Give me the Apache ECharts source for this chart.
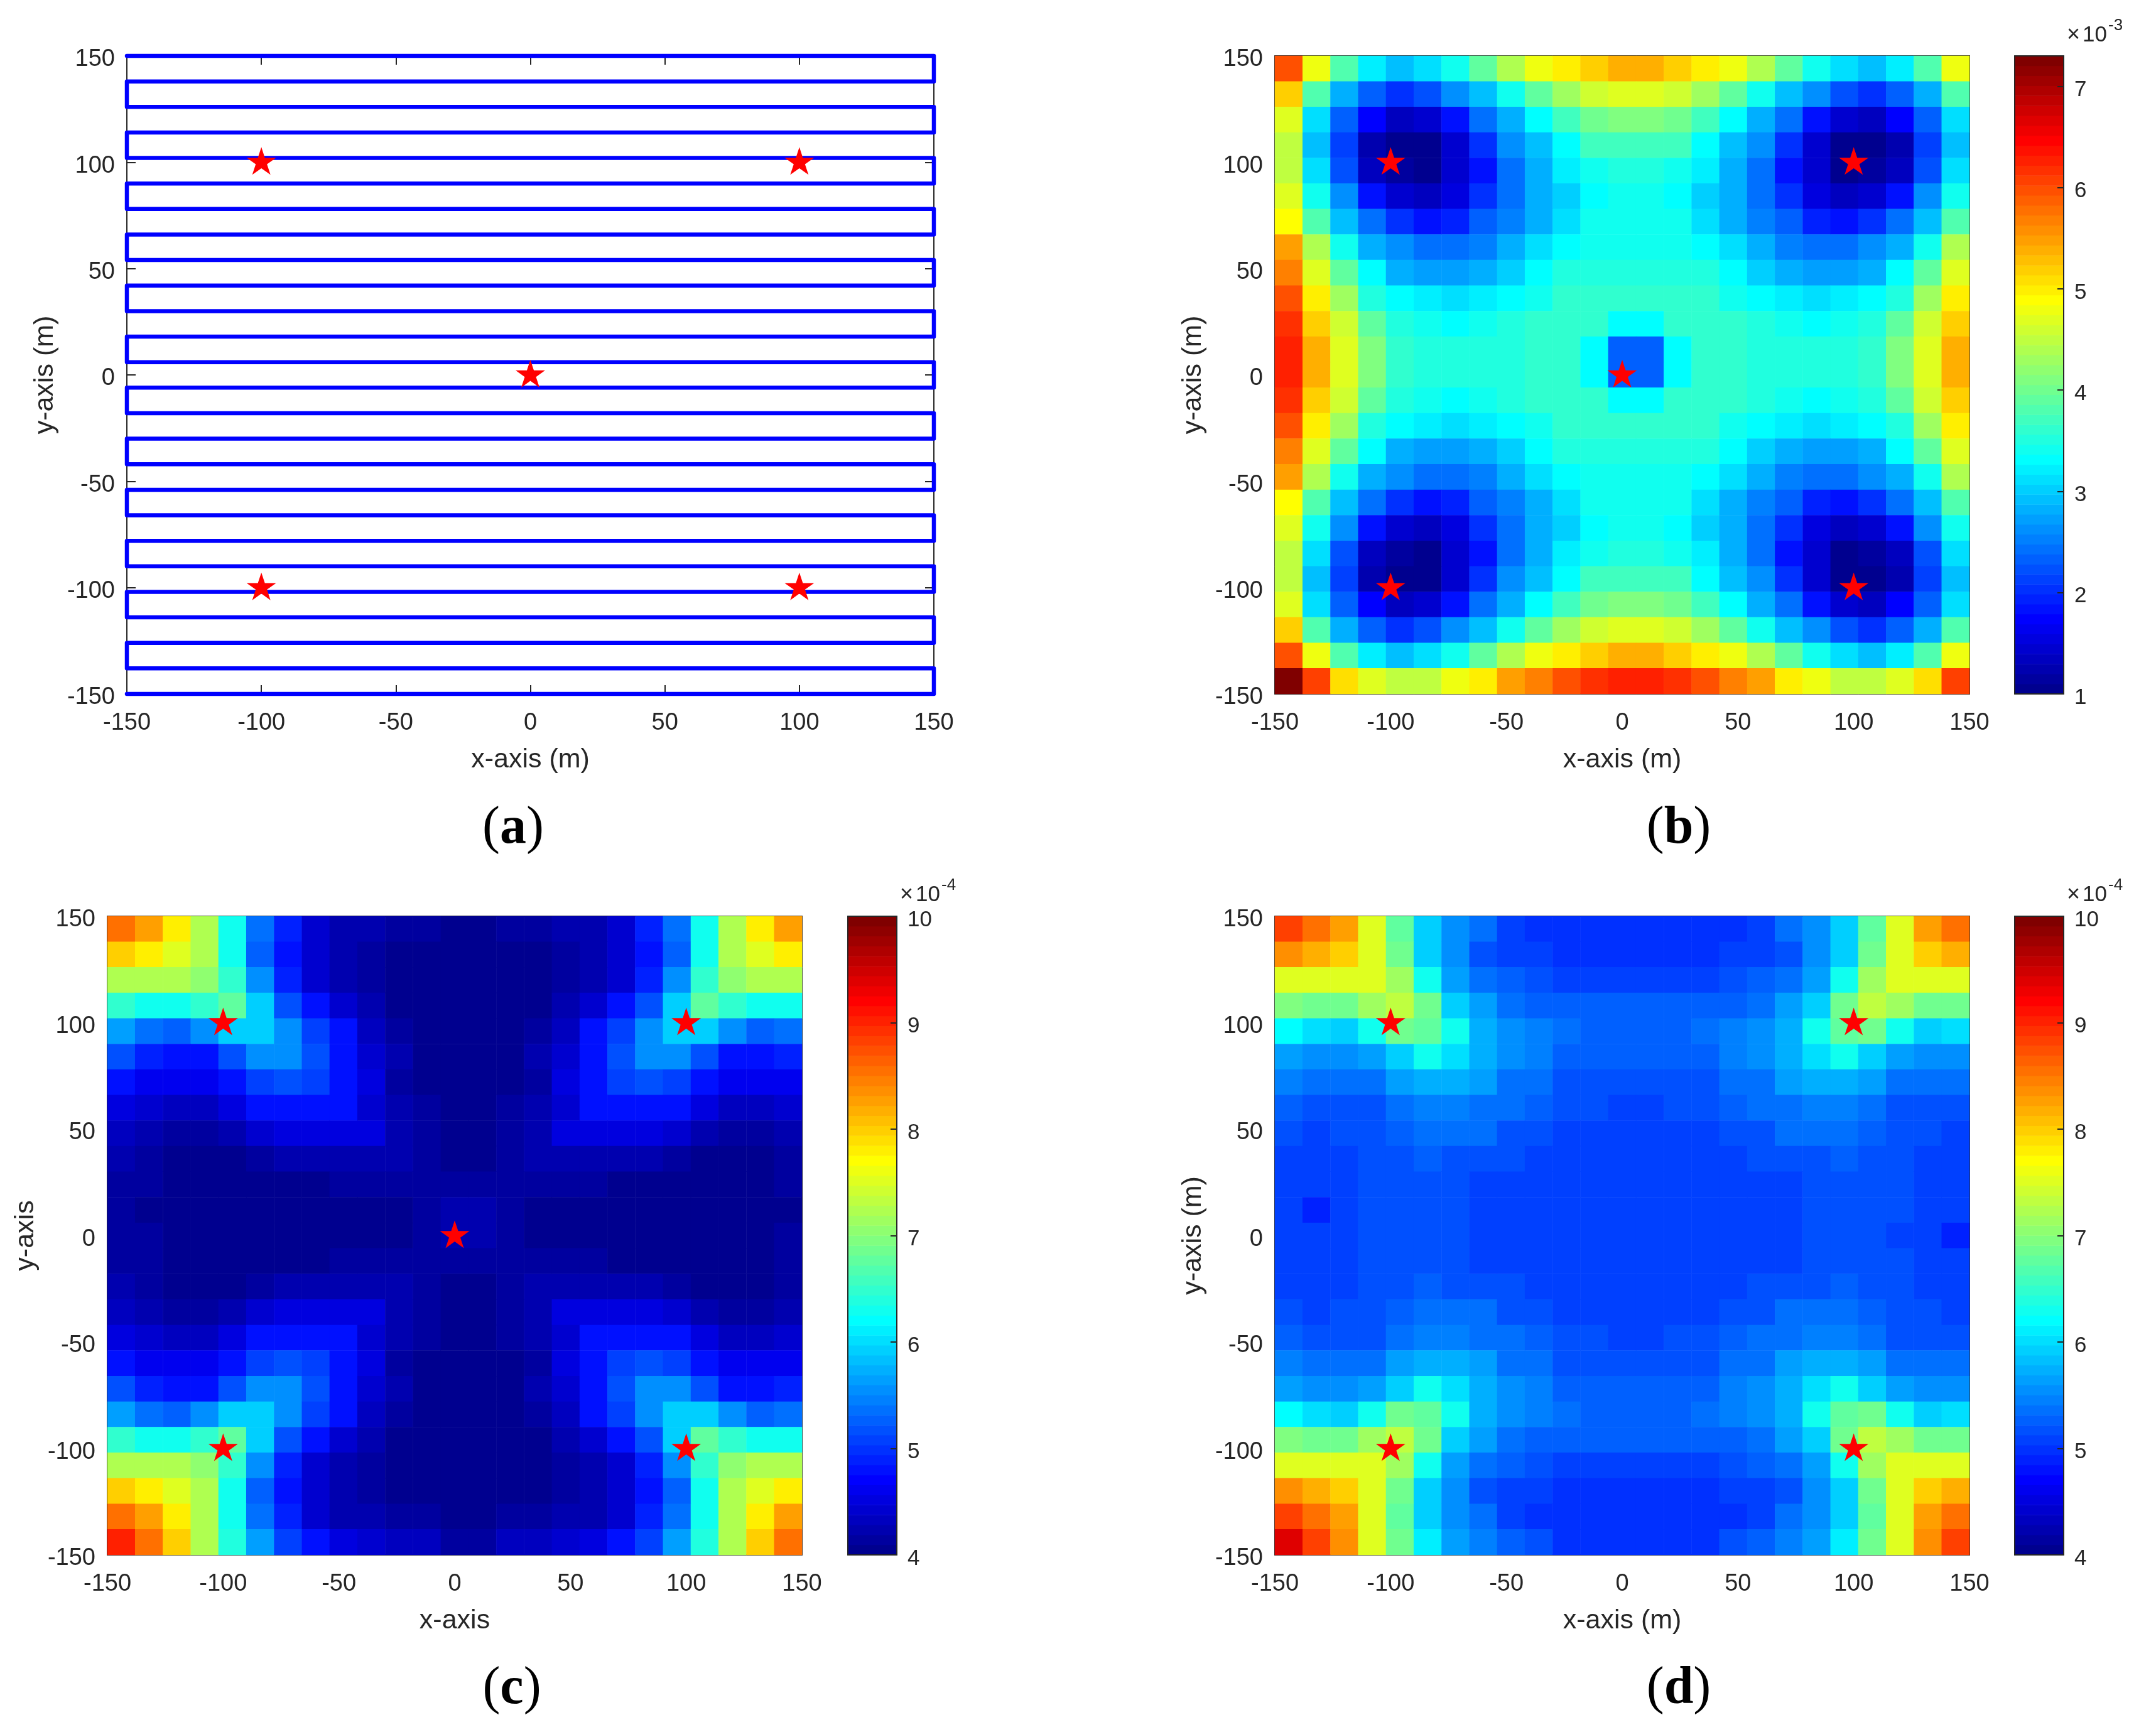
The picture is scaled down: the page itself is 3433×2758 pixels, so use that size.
<!DOCTYPE html>
<html>
<head>
<meta charset="utf-8">
<style>html,body{margin:0;padding:0;background:#fff}#c{width:3433px;height:2758px}</style>
<script src="https://cdn.jsdelivr.net/npm/echarts@6/dist/echarts.min.js"></script>
</head>
<body>
<div id="c"></div>
<script>
// ---------- data ----------
const starX = [-100, 100, 0, -100, 100];
const starY = [100, 100, 0, -100, -100];
const starXd = [-100, 100, -100, 100];
const starYd = [100, 100, -100, -100];
const pathX = [-150,150,150,-150,-150,150,150,-150,-150,150,150,-150,-150,150,150,-150,-150,150,150,-150,-150,150,150,-150,-150,150,150,-150,-150,150,150,-150,-150,150,150,-150,-150,150,150,-150,-150,150,150,-150,-150,150,150,-150,-150,150,150,-150];
const pathY = [150,150,138,138,126,126,114,114,102,102,90,90,78,78,66,66,54,54,42,42,30,30,18,18,6,6,-6,-6,-18,-18,-30,-30,-42,-42,-54,-54,-66,-66,-78,-78,-90,-90,-102,-102,-114,-114,-126,-126,-138,-138,-150,-150];
const cellNames = ['1','2','3','4','5','6','7','8','9','10','11','12','13','14','15','16','17','18','19','20','21','22','23','24','25'];
// power maps, rows listed from y=150 down to y=-150 (units of the colour bar)
const mapB = [
[6.0,4.75,3.8,3.25,2.95,3.15,3.43,3.9,4.35,4.75,5.0,5.2,5.35,5.35,5.2,5.0,4.75,4.35,3.9,3.43,3.15,2.95,3.25,3.8,4.75],
[5.15,3.8,2.85,2.33,2.0,2.2,2.6,2.95,3.38,3.9,4.25,4.55,4.65,4.65,4.55,4.25,3.9,3.38,2.95,2.6,2.2,2.0,2.33,2.85,3.8],
[4.65,3.15,2.3,1.7,1.35,1.45,1.8,2.4,2.85,3.32,3.7,4.0,4.1,4.1,4.0,3.7,3.32,2.85,2.4,1.8,1.45,1.35,1.7,2.3,3.15],
[4.45,2.95,2.1,1.25,1.05,1.0,1.45,2.0,2.58,2.95,3.32,3.68,3.75,3.75,3.68,3.32,2.95,2.58,2.0,1.45,1.0,1.05,1.25,2.1,2.95],
[4.45,3.15,2.2,1.35,1.1,1.05,1.45,1.8,2.4,2.85,3.25,3.43,3.55,3.55,3.43,3.25,2.85,2.4,1.8,1.45,1.05,1.1,1.35,2.2,3.15],
[4.7,3.43,2.58,1.8,1.45,1.35,1.55,2.0,2.4,2.8,3.05,3.32,3.43,3.43,3.32,3.05,2.8,2.4,2.0,1.55,1.35,1.45,1.8,2.58,3.43],
[4.85,3.8,2.95,2.4,2.0,1.8,1.9,2.33,2.5,2.85,3.15,3.38,3.43,3.43,3.38,3.15,2.85,2.5,2.33,1.9,1.8,2.0,2.4,2.95,3.8],
[5.45,4.35,3.38,2.85,2.58,2.4,2.4,2.5,2.8,3.15,3.32,3.43,3.43,3.43,3.43,3.32,3.15,2.8,2.5,2.4,2.4,2.58,2.85,3.38,4.35],
[5.7,4.7,3.9,3.32,2.85,2.75,2.75,2.85,3.05,3.32,3.48,3.55,3.55,3.55,3.55,3.48,3.32,3.05,2.85,2.75,2.75,2.85,3.32,3.9,4.7],
[6.0,5.0,4.25,3.55,3.32,3.25,3.15,3.25,3.32,3.43,3.6,3.6,3.6,3.6,3.6,3.6,3.43,3.32,3.25,3.15,3.25,3.32,3.55,4.25,5.0],
[6.2,5.2,4.55,3.9,3.55,3.38,3.32,3.38,3.48,3.6,3.6,3.6,3.32,3.32,3.6,3.6,3.6,3.48,3.38,3.32,3.38,3.55,3.9,4.55,5.2],
[6.3,5.35,4.65,4.1,3.6,3.48,3.48,3.48,3.55,3.6,3.6,3.35,2.37,2.37,3.35,3.6,3.6,3.55,3.48,3.48,3.48,3.6,4.1,4.65,5.35],
[6.3,5.35,4.65,4.1,3.6,3.48,3.48,3.48,3.55,3.6,3.6,3.35,2.37,2.37,3.35,3.6,3.6,3.55,3.48,3.48,3.48,3.6,4.1,4.65,5.35],
[6.2,5.2,4.55,3.9,3.55,3.38,3.32,3.38,3.48,3.6,3.6,3.6,3.32,3.32,3.6,3.6,3.6,3.48,3.38,3.32,3.38,3.55,3.9,4.55,5.2],
[6.0,5.0,4.25,3.55,3.32,3.25,3.15,3.25,3.32,3.43,3.6,3.6,3.6,3.6,3.6,3.6,3.43,3.32,3.25,3.15,3.25,3.32,3.55,4.25,5.0],
[5.7,4.7,3.9,3.32,2.85,2.75,2.75,2.85,3.05,3.32,3.48,3.55,3.55,3.55,3.55,3.48,3.32,3.05,2.85,2.75,2.75,2.85,3.32,3.9,4.7],
[5.45,4.35,3.38,2.85,2.58,2.4,2.4,2.5,2.8,3.15,3.32,3.43,3.43,3.43,3.43,3.32,3.15,2.8,2.5,2.4,2.4,2.58,2.85,3.38,4.35],
[4.85,3.8,2.95,2.4,2.0,1.8,1.9,2.33,2.5,2.85,3.15,3.38,3.43,3.43,3.38,3.15,2.85,2.5,2.33,1.9,1.8,2.0,2.4,2.95,3.8],
[4.7,3.43,2.58,1.8,1.45,1.35,1.55,2.0,2.4,2.8,3.05,3.32,3.43,3.43,3.32,3.05,2.8,2.4,2.0,1.55,1.35,1.45,1.8,2.58,3.43],
[4.45,3.15,2.2,1.35,1.1,1.05,1.45,1.8,2.4,2.85,3.25,3.43,3.55,3.55,3.43,3.25,2.85,2.4,1.8,1.45,1.05,1.1,1.35,2.2,3.15],
[4.45,2.95,2.1,1.25,1.05,1.0,1.45,2.0,2.58,2.95,3.32,3.68,3.75,3.75,3.68,3.32,2.95,2.58,2.0,1.45,1.0,1.05,1.25,2.1,2.95],
[4.65,3.15,2.3,1.7,1.35,1.45,1.8,2.4,2.85,3.32,3.7,4.0,4.1,4.1,4.0,3.7,3.32,2.85,2.4,1.8,1.45,1.35,1.7,2.3,3.15],
[5.15,3.8,2.85,2.33,2.0,2.2,2.6,2.95,3.38,3.9,4.25,4.55,4.65,4.65,4.55,4.25,3.9,3.38,2.95,2.6,2.2,2.0,2.33,2.85,3.8],
[6.0,4.75,3.8,3.25,2.95,3.15,3.43,3.9,4.35,4.75,5.0,5.2,5.35,5.35,5.2,5.0,4.75,4.35,3.9,3.43,3.15,2.95,3.25,3.8,4.75],
[7.3,6.1,5.1,4.65,4.45,4.45,4.75,5.0,5.45,5.7,5.95,6.15,6.3,6.3,6.15,5.95,5.7,5.45,5.0,4.75,4.45,4.45,4.65,5.1,6.1]
];
const mapC = [
[8.5,8.25,7.75,7.2,6.25,5.4,4.85,4.45,4.25,4.2,4.15,4.15,4.05,4.05,4.15,4.15,4.2,4.25,4.45,4.85,5.4,6.25,7.2,7.75,8.25],
[7.95,7.75,7.55,7.2,6.25,5.3,4.75,4.4,4.2,4.15,4.05,4.05,4.0,4.0,4.05,4.05,4.15,4.2,4.4,4.75,5.3,6.25,7.2,7.55,7.75],
[7.25,7.2,7.2,7.05,6.45,5.5,4.85,4.45,4.25,4.15,4.05,4.0,4.0,4.0,4.0,4.05,4.15,4.25,4.45,4.85,5.5,6.45,7.05,7.2,7.2],
[6.45,6.25,6.25,6.45,6.75,5.95,5.2,4.75,4.45,4.25,4.05,4.0,4.0,4.0,4.0,4.05,4.25,4.45,4.75,5.2,5.95,6.75,6.45,6.25,6.25],
[5.6,5.4,5.3,5.55,5.95,5.95,5.55,5.1,4.75,4.35,4.15,4.05,4.0,4.0,4.05,4.15,4.35,4.75,5.1,5.55,5.95,5.95,5.55,5.3,5.4],
[5.2,4.85,4.75,4.8,5.2,5.55,5.5,5.2,4.75,4.45,4.2,4.0,4.0,4.0,4.0,4.2,4.45,4.75,5.2,5.5,5.55,5.2,4.8,4.75,4.85],
[4.75,4.65,4.6,4.6,4.75,5.1,5.2,5.1,4.75,4.5,4.15,4.0,4.0,4.0,4.0,4.15,4.5,4.75,5.1,5.2,5.1,4.75,4.6,4.6,4.65],
[4.5,4.45,4.35,4.35,4.5,4.75,4.8,4.8,4.75,4.45,4.2,4.1,4.0,4.0,4.1,4.2,4.45,4.75,4.8,4.8,4.75,4.5,4.35,4.35,4.45],
[4.35,4.25,4.15,4.15,4.25,4.45,4.55,4.55,4.55,4.55,4.2,4.1,4.0,4.0,4.1,4.2,4.55,4.55,4.55,4.55,4.45,4.25,4.15,4.15,4.25],
[4.2,4.15,4.0,4.0,4.0,4.15,4.25,4.25,4.25,4.25,4.25,4.1,4.0,4.0,4.1,4.25,4.25,4.25,4.25,4.25,4.15,4.0,4.0,4.0,4.15],
[4.15,4.1,4.0,4.0,4.0,4.0,4.0,4.0,4.12,4.12,4.12,4.12,4.12,4.12,4.12,4.12,4.12,4.12,4.0,4.0,4.0,4.0,4.0,4.0,4.1],
[4.1,4.0,4.0,4.0,4.0,4.0,4.0,4.0,4.0,4.0,4.0,4.1,4.25,4.25,4.1,4.0,4.0,4.0,4.0,4.0,4.0,4.0,4.0,4.0,4.0],
[4.1,4.1,4.0,4.0,4.0,4.0,4.0,4.0,4.0,4.0,4.0,4.1,4.25,4.25,4.1,4.0,4.0,4.0,4.0,4.0,4.0,4.0,4.0,4.0,4.1],
[4.15,4.1,4.0,4.0,4.0,4.0,4.0,4.0,4.12,4.12,4.12,4.12,4.12,4.12,4.12,4.12,4.12,4.12,4.0,4.0,4.0,4.0,4.0,4.0,4.1],
[4.2,4.15,4.0,4.0,4.0,4.15,4.25,4.25,4.25,4.25,4.25,4.1,4.0,4.0,4.1,4.25,4.25,4.25,4.25,4.25,4.15,4.0,4.0,4.0,4.15],
[4.35,4.25,4.15,4.15,4.25,4.45,4.55,4.55,4.55,4.55,4.2,4.1,4.0,4.0,4.1,4.2,4.55,4.55,4.55,4.55,4.45,4.25,4.15,4.15,4.25],
[4.5,4.45,4.35,4.35,4.5,4.75,4.8,4.8,4.75,4.45,4.2,4.1,4.0,4.0,4.1,4.2,4.45,4.75,4.8,4.8,4.75,4.5,4.35,4.35,4.45],
[4.75,4.65,4.6,4.6,4.75,5.1,5.2,5.1,4.75,4.5,4.15,4.0,4.0,4.0,4.0,4.15,4.5,4.75,5.1,5.2,5.1,4.75,4.6,4.6,4.65],
[5.2,4.85,4.75,4.8,5.2,5.55,5.5,5.2,4.75,4.45,4.2,4.0,4.0,4.0,4.0,4.2,4.45,4.75,5.2,5.5,5.55,5.2,4.8,4.75,4.85],
[5.6,5.4,5.3,5.55,5.95,5.95,5.55,5.1,4.75,4.35,4.15,4.05,4.0,4.0,4.05,4.15,4.35,4.75,5.1,5.55,5.95,5.95,5.55,5.3,5.4],
[6.45,6.25,6.25,6.45,6.75,5.95,5.2,4.75,4.45,4.25,4.05,4.0,4.0,4.0,4.0,4.05,4.25,4.45,4.75,5.2,5.95,6.75,6.45,6.25,6.25],
[7.25,7.2,7.2,7.05,6.45,5.5,4.85,4.45,4.25,4.15,4.05,4.0,4.0,4.0,4.0,4.05,4.15,4.25,4.45,4.85,5.5,6.45,7.05,7.2,7.2],
[7.95,7.75,7.55,7.2,6.25,5.3,4.75,4.4,4.2,4.15,4.05,4.05,4.0,4.0,4.05,4.05,4.15,4.2,4.4,4.75,5.3,6.25,7.2,7.55,7.75],
[8.5,8.25,7.75,7.2,6.25,5.4,4.85,4.45,4.25,4.2,4.15,4.15,4.05,4.05,4.15,4.15,4.2,4.25,4.45,4.85,5.4,6.25,7.2,7.75,8.25],
[9.05,8.5,7.95,7.2,6.35,5.6,5.1,4.75,4.55,4.45,4.35,4.35,4.15,4.15,4.35,4.35,4.45,4.55,4.75,5.1,5.6,6.35,7.2,7.95,8.5]
];
const mapD = [
[8.85,8.55,8.25,7.55,6.75,5.95,5.5,5.35,5.1,5.0,5.0,5.0,5.0,5.0,5.0,5.0,5.0,5.1,5.35,5.5,5.95,6.75,7.55,8.25,8.55],
[8.35,8.15,7.95,7.55,6.85,5.95,5.5,5.2,5.1,5.1,5.0,5.0,5.0,5.0,5.0,5.0,5.1,5.1,5.2,5.5,5.95,6.85,7.55,7.95,8.15],
[7.55,7.55,7.55,7.55,7.1,6.25,5.6,5.35,5.3,5.2,5.1,5.1,5.1,5.1,5.1,5.1,5.2,5.3,5.35,5.6,6.25,7.1,7.55,7.55,7.55],
[6.95,6.85,6.85,7.1,7.35,6.85,5.95,5.6,5.4,5.3,5.25,5.25,5.25,5.25,5.25,5.25,5.3,5.4,5.6,5.95,6.85,7.35,7.1,6.85,6.85],
[6.2,6.05,5.95,6.25,6.85,6.8,6.25,5.75,5.5,5.45,5.35,5.25,5.25,5.25,5.25,5.35,5.45,5.5,5.75,6.25,6.8,6.85,6.25,5.95,6.05],
[5.65,5.5,5.5,5.65,5.95,6.25,6.05,5.75,5.5,5.45,5.25,5.25,5.25,5.25,5.25,5.25,5.45,5.5,5.75,6.05,6.25,5.95,5.65,5.5,5.5],
[5.45,5.35,5.35,5.35,5.6,5.7,5.7,5.6,5.4,5.35,5.2,5.15,5.15,5.15,5.15,5.2,5.35,5.4,5.6,5.7,5.7,5.6,5.35,5.35,5.35],
[5.25,5.15,5.15,5.15,5.35,5.45,5.45,5.4,5.35,5.25,5.15,5.15,5.05,5.05,5.15,5.15,5.25,5.35,5.4,5.45,5.45,5.35,5.15,5.15,5.15],
[5.15,5.05,5.15,5.15,5.25,5.35,5.35,5.35,5.2,5.15,5.05,5.05,5.05,5.05,5.05,5.05,5.15,5.2,5.35,5.35,5.35,5.25,5.15,5.15,5.05],
[5.05,5.05,5.05,5.15,5.15,5.25,5.15,5.15,5.15,5.05,5.05,5.05,5.05,5.05,5.05,5.05,5.05,5.15,5.15,5.15,5.25,5.15,5.15,5.05,5.05],
[5.05,5.05,5.05,5.15,5.15,5.15,5.15,5.1,5.1,5.05,5.05,5.05,5.05,5.05,5.05,5.05,5.05,5.1,5.1,5.15,5.15,5.15,5.15,5.05,5.05],
[5.05,4.9,5.05,5.15,5.15,5.15,5.15,5.1,5.05,5.05,5.05,5.05,5.05,5.05,5.05,5.05,5.05,5.05,5.1,5.15,5.15,5.15,5.15,5.05,5.05],
[5.05,5.05,5.05,5.15,5.15,5.15,5.15,5.1,5.05,5.05,5.05,5.05,5.05,5.05,5.05,5.05,5.05,5.05,5.1,5.15,5.15,5.15,5.05,5.05,4.9],
[5.05,5.05,5.05,5.15,5.15,5.15,5.15,5.1,5.1,5.05,5.05,5.05,5.05,5.05,5.05,5.05,5.05,5.1,5.1,5.15,5.15,5.15,5.15,5.05,5.05],
[5.05,5.05,5.05,5.15,5.15,5.25,5.15,5.15,5.15,5.05,5.05,5.05,5.05,5.05,5.05,5.05,5.05,5.15,5.15,5.15,5.25,5.15,5.15,5.05,5.05],
[5.15,5.05,5.15,5.15,5.25,5.35,5.35,5.35,5.2,5.15,5.05,5.05,5.05,5.05,5.05,5.05,5.15,5.2,5.35,5.35,5.35,5.25,5.15,5.15,5.05],
[5.25,5.15,5.15,5.15,5.35,5.45,5.45,5.4,5.35,5.25,5.15,5.15,5.05,5.05,5.15,5.15,5.25,5.35,5.4,5.45,5.45,5.35,5.15,5.15,5.15],
[5.45,5.35,5.35,5.35,5.6,5.7,5.7,5.6,5.4,5.35,5.2,5.15,5.15,5.15,5.15,5.2,5.35,5.4,5.6,5.7,5.7,5.6,5.35,5.35,5.35],
[5.65,5.5,5.5,5.65,5.95,6.25,6.05,5.75,5.5,5.45,5.25,5.25,5.25,5.25,5.25,5.25,5.45,5.5,5.75,6.05,6.25,5.95,5.65,5.5,5.5],
[6.2,6.05,5.95,6.25,6.85,6.8,6.25,5.75,5.5,5.45,5.35,5.25,5.25,5.25,5.25,5.35,5.45,5.5,5.75,6.25,6.8,6.85,6.25,5.95,6.05],
[6.95,6.85,6.85,7.1,7.35,6.85,5.95,5.6,5.4,5.3,5.25,5.25,5.25,5.25,5.25,5.25,5.3,5.4,5.6,5.95,6.85,7.35,7.1,6.85,6.85],
[7.55,7.55,7.55,7.55,7.1,6.25,5.6,5.35,5.3,5.2,5.1,5.1,5.1,5.1,5.1,5.1,5.2,5.3,5.35,5.6,6.25,7.1,7.55,7.55,7.55],
[8.35,8.15,7.95,7.55,6.85,5.95,5.5,5.2,5.1,5.1,5.0,5.0,5.0,5.0,5.0,5.0,5.1,5.1,5.2,5.5,5.95,6.85,7.55,7.95,8.15],
[8.85,8.55,8.25,7.55,6.75,5.95,5.5,5.35,5.1,5.0,5.0,5.0,5.0,5.0,5.0,5.0,5.0,5.1,5.35,5.5,5.95,6.75,7.55,8.25,8.55],
[9.4,8.85,8.35,7.55,6.85,6.15,5.65,5.45,5.25,5.15,5.0,5.0,5.0,5.0,5.0,5.0,5.15,5.25,5.45,5.65,6.15,6.85,7.55,8.35,8.85]
];

// ---------- styling and assembly ----------
const INK = '#262626';
const SANS = '"Liberation Sans", Arial, sans-serif';
const SERIF = '"Liberation Serif", "Times New Roman", serif';
const STAR = 'path://M0 -24 L5.39 -7.42 L22.83 -7.42 L8.72 2.83 L14.11 19.42 L0 9.17 L-14.11 19.42 L-8.72 2.83 L-22.83 -7.42 L-5.39 -7.42 Z';

function jet(k) { // MATLAB jet(64), k = 0..63
  const t = (k + 1) / 64 * 4;
  const c = v => Math.round(255 * Math.min(1, Math.max(0, v)));
  const r = c(Math.min(t - 1.5, 4.5 - t));
  const g = c(Math.min(t - 0.5, 3.5 - t));
  const b = c(Math.min(t + 0.5, 2.5 - t));
  return 'rgb(' + r + ',' + g + ',' + b + ')';
}
function pieces(min, max) {
  const d = (max - min) / 64, out = [];
  for (let k = 0; k < 64; k++) {
    const p = { gte: min + k * d, color: jet(k) };
    if (k === 63) p.lte = max + 1e-6; else p.lt = min + (k + 1) * d;
    out.push(p);
  }
  return out;
}

const grids = [], xAxes = [], yAxes = [], series = [], graphics = [], visualMaps = [];

function valueAxis(g, pos, min, max, interval, o) {
  o = o || {};
  const ax = {
    type: 'value', gridIndex: g, position: pos, min, max, interval,
    z: o.z || 0, silent: true,
    axisLine: { show: true, onZero: false, lineStyle: { color: INK, width: 2 } },
    axisTick: { show: true, inside: true, length: o.tick || 14, lineStyle: { color: INK, width: 2 } },
    splitLine: { show: false },
    axisLabel: { show: !!o.label, color: INK, fontFamily: SANS, fontSize: o.fontSize || 38, margin: o.margin === undefined ? 28 : o.margin, formatter: o.formatter },
  };
  if (o.lowered) { ax.axisLabel.verticalAlign = 'top'; ax.axisLabel.lineHeight = 12; }
  if (o.name) {
    ax.name = o.name; ax.nameLocation = 'middle'; ax.nameGap = o.nameGap;
    ax.nameTextStyle = { color: INK, fontFamily: SANS, fontSize: 43 };
  }
  return ax;
}

function frame(rect, xName, yName) {
  const g = grids.length;
  grids.push(Object.assign({ show: false }, rect));
  const xi = xAxes.length, yi = yAxes.length;
  xAxes.push(valueAxis(g, 'bottom', -150, 150, 50, { label: true, name: xName, nameGap: 84 }));
  yAxes.push(valueAxis(g, 'left', -150, 150, 50, { label: true, margin: 19, lowered: true, name: yName, nameGap: 108 }));
  xAxes.push(valueAxis(g, 'top', -150, 150, 50));
  yAxes.push(valueAxis(g, 'right', -150, 150, 50));
  return { g, xi, yi };
}

function stars(f, xs, ys) {
  series.push({
    type: 'scatter', xAxisIndex: f.xi, yAxisIndex: f.yi, z: 6, silent: true,
    symbol: STAR, symbolSize: [47, 44], symbolOffset: [0, -2],
    itemStyle: { color: '#ff0000', opacity: 1 },
    data: xs.map((x, i) => [x, ys[i]]),
  });
}

function heat(f, matrix) {
  const xc = xAxes.length, yc = yAxes.length;
  xAxes.push({ type: 'category', gridIndex: f.g, data: cellNames, show: false });
  yAxes.push({ type: 'category', gridIndex: f.g, data: cellNames, inverse: true, show: false });
  const data = [];
  matrix.forEach((row, r) => row.forEach((v, c) => data.push([c, r, v])));
  series.push({ type: 'heatmap', xAxisIndex: xc, yAxisIndex: yc, data, z: 2, silent: true, progressive: 0, animation: false, itemStyle: { borderWidth: 0 } });
  return series.length - 1;
}

function colorbar(rect, min, max, exp, cx, cy) {
  const g = grids.length;
  grids.push(Object.assign({ show: false }, rect));
  const levels = [], d = (max - min) / 64, data = [];
  for (let k = 0; k < 64; k++) { levels.push(String(k)); data.push([0, k, min + (k + 0.5) * d]); }
  const xc = xAxes.length, yc = yAxes.length;
  xAxes.push({ type: 'category', gridIndex: g, data: ['c'], show: false });
  yAxes.push({ type: 'category', gridIndex: g, data: levels, show: false });
  series.push({ type: 'heatmap', xAxisIndex: xc, yAxisIndex: yc, data, z: 2, silent: true, progressive: 0, animation: false });
  const idx = series.length - 1;
  xAxes.push(valueAxis(g, 'bottom', 0, 1, 1, { z: 5, tick: 0.001 }));
  xAxes.push(valueAxis(g, 'top', 0, 1, 1, { z: 5, tick: 0.001 }));
  yAxes.push(valueAxis(g, 'left', min, max, 1, { z: 5, tick: 0.001 }));
  yAxes.push(valueAxis(g, 'right', min, max, 1, { z: 5, tick: 10, label: true, fontSize: 35, margin: 17, lowered: true,
    formatter: v => Number.isInteger(v) ? String(v) : '' }));
  const small = (text, x, y, size) => graphics.push({ type: 'text', x, y, z: 10, style: {
    text: '{t|' + text + '}', verticalAlign: 'middle',
    rich: { t: { fontFamily: SANS, fontSize: size, fill: INK } } } });
  small('\u00d7', cx, cy, 36);
  small('10', cx + 25, cy, 35);
  small(exp, cx + 66, cy - 15, 26);
  return idx;
}

function caption(letter, x, y) {
  graphics.push({
    type: 'text', x, y, z: 10,
    style: {
      text: '{n|(}{b|' + letter + '}{n|)}', align: 'center', verticalAlign: 'middle',
      rich: {
        n: { fontFamily: SERIF, fontSize: 84, fill: '#000', fontWeight: 'normal' },
        b: { fontFamily: SERIF, fontSize: 84, fill: '#000', fontWeight: 'bold' },
      },
    },
  });
}

// (a) flight path
const fa = frame({ left: 202, top: 89, width: 1285, height: 1016 }, 'x-axis (m)', 'y-axis (m)');
series.push({
  type: 'line', xAxisIndex: fa.xi, yAxisIndex: fa.yi, z: 3, silent: true, clip: false, showSymbol: false, symbol: 'none',
  lineStyle: { color: '#0000ff', width: 6.5, join: 'round', cap: 'round' },
  data: pathX.map((x, i) => [x, pathY[i]]),
});
stars(fa, starX, starY);
caption('a', 817, 1320);

// (b)
const fb = frame({ left: 2030, top: 89, width: 1106, height: 1016 }, 'x-axis (m)', 'y-axis (m)');
const sb = heat(fb, mapB); stars(fb, starX, starY);
const cb = colorbar({ left: 3208, top: 89, width: 78, height: 1016 }, 1, 7.3, '-3', 3291, 56);
visualMaps.push({ type: 'piecewise', show: false, dimension: 2, seriesIndex: [sb, cb], pieces: pieces(1, 7.3) });
caption('b', 2673, 1320);

// (c)
const fc = frame({ left: 171, top: 1459, width: 1106, height: 1017 }, 'x-axis', 'y-axis');
const sc = heat(fc, mapC); stars(fc, starX, starY);
const cc = colorbar({ left: 1350, top: 1459, width: 78, height: 1017 }, 4, 10, '-4', 1433, 1425);
caption('c', 815, 2690);

// (d)
const fd = frame({ left: 2030, top: 1459, width: 1106, height: 1017 }, 'x-axis (m)', 'y-axis (m)');
const sd = heat(fd, mapD); stars(fd, starXd, starYd);
const cd = colorbar({ left: 3208, top: 1459, width: 78, height: 1017 }, 4, 10, '-4', 3291, 1425);
visualMaps.push({ type: 'piecewise', show: false, dimension: 2, seriesIndex: [sc, cc, sd, cd], pieces: pieces(4, 10) });
caption('d', 2673, 2690);

const chart = echarts.init(document.getElementById('c'), null, { renderer: 'canvas' });
chart.setOption({
  backgroundColor: '#ffffff',
  animation: false,
  grid: grids,
  xAxis: xAxes,
  yAxis: yAxes,
  visualMap: visualMaps,
  series,
  graphic: { elements: graphics },
});
</script>
</body>
</html>
